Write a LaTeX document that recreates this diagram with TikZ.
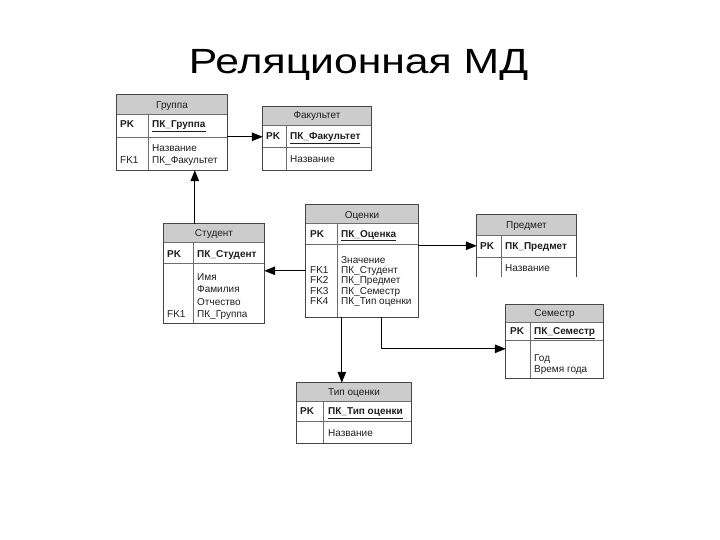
\documentclass[tikz,border=0pt]{standalone}
\usepackage{fontspec}
\setmainfont{Liberation Sans}
\usetikzlibrary{arrows.meta,fit}
\definecolor{bordc}{RGB}{70,70,70}
\definecolor{sepc}{RGB}{110,110,110}
\definecolor{hdrc}{RGB}{204,204,204}
\definecolor{txtc}{RGB}{30,30,30}
% name, left, top, right, bottom, header bottom, pk bottom, divider x
\newcommand\ertbl[8]{%
  \path (#2,#3) coordinate (#1-nw) (#4,#5) coordinate (#1-se);
  \node[inner sep=0pt, fit=(#1-nw)(#1-se)] (#1) {};
  \fill[hdrc] (#1.north west) rectangle (#4,#6);
  \draw[sepline] (#2,#6) -- (#4,#6) (#2,#7) -- (#4,#7) (#8,#6) -- (#8,#5);
}
\begin{document}
\begin{tikzpicture}[x=1pt,y=-1pt,
  sepline/.style={draw=sepc, line width=0.9pt},
  bord/.style={draw=bordc, line width=1pt},
  txt/.style={font=\fontsize{10}{11}\selectfont, text=txtc, anchor=base west, inner sep=0pt},
  htxt/.style={font=\fontsize{10}{11}\selectfont, text=txtc, anchor=base, inner sep=0pt},
  conn/.style={line width=1.3pt, -{Triangle[length=11pt,width=8.5pt]}}
]
\useasboundingbox (0,0) rectangle (720,540);

% title
\node[font=\fontsize{35}{40}\selectfont, anchor=base, inner sep=0pt, xscale=1.22, transform shape] (title) at (358.5,74) {Реляционная МД};

% tables
\ertbl{gr}{117}{95}{227}{170}{114}{137}{148}
\ertbl{fa}{263}{107}{371}{170}{125}{147}{286}
\ertbl{st}{164}{224}{264}{323}{242}{263}{193}
\ertbl{oc}{306}{205}{418}{317}{223}{244}{337}
\ertbl{pr}{477}{215}{576}{277}{235}{257}{501}
\ertbl{se}{506}{305}{603}{378}{322}{340}{530}
\ertbl{to}{297}{383}{411}{443}{401}{421}{323}

\draw[bord] (gr.north west) rectangle (gr.south east);
\draw[bord] (fa.north west) rectangle (fa.south east);
\draw[bord] (st.north west) rectangle (st.south east);
\draw[bord] (oc.north west) rectangle (oc.south east);
\draw[bord] (pr.south west) |- (pr.north east) -- (pr.south east);
\draw[bord] (se.north west) rectangle (se.south east);
\draw[bord] (to.north west) rectangle (to.south east);

% Группа
\node[htxt] (gr-h) at (172,108.5) {Группа};
\node[txt] (gr-pk) at (120,127.5) {\bfseries PK};
\node[txt] (gr-pkf) at (152,127.5) {\bfseries\underline{ПК\_Группа}};
\node[txt] (gr-f1) at (152,151.5) {Название};
\node[txt] (gr-f2) at (152,163.5) {ПК\_Факультет};
\node[txt] (gr-fk) at (120,163.5) {FK1};

% Факультет
\node[htxt] (fa-h) at (317,118.5) {Факультет};
\node[txt] (fa-pk) at (266,139.5) {\bfseries PK};
\node[txt] (fa-pkf) at (290,139.5) {\bfseries\underline{ПК\_Факультет}};
\node[txt] (fa-f1) at (290,163) {Название};

% Студент
\node[htxt] (st-h) at (214,236.5) {Студент};
\node[txt] (st-pk) at (167,257.5) {\bfseries PK};
\node[txt] (st-pkf) at (197,257.5) {\bfseries ПК\_Студент};
\node[txt] (st-f1) at (197,280.5) {Имя};
\node[txt] (st-f2) at (197,292.8) {Фамилия};
\node[txt] (st-f3) at (197,305.1) {Отчество};
\node[txt] (st-f4) at (197,317.4) {ПК\_Группа};
\node[txt] (st-fk) at (167,317.4) {FK1};

% Оценки
\node[htxt] (oc-h) at (362,218.5) {Оценки};
\node[txt] (oc-pk) at (310,237) {\bfseries PK};
\node[txt] (oc-pkf) at (341,237) {\bfseries\underline{ПК\_Оценка}};
\node[txt] (oc-f0) at (341,263.5) {Значение};
\node[txt] (oc-f1) at (341,273.7) {ПК\_Студент};
\node[txt] (oc-f2) at (341,283.9) {ПК\_Предмет};
\node[txt] (oc-f3) at (341,294.1) {ПК\_Семестр};
\node[txt] (oc-f4) at (341,304.3) {ПК\_Тип оценки};
\node[txt] (oc-k1) at (310,273.7) {FK1};
\node[txt] (oc-k2) at (310,283.9) {FK2};
\node[txt] (oc-k3) at (310,294.1) {FK3};
\node[txt] (oc-k4) at (310,304.3) {FK4};

% Предмет
\node[htxt] (pr-h) at (526.5,228.5) {Предмет};
\node[txt] (pr-pk) at (480,249.5) {\bfseries PK};
\node[txt] (pr-pkf) at (505,249.5) {\bfseries ПК\_Предмет};
\node[txt] (pr-f1) at (505,271.5) {Название};

% Семестр
\node[htxt] (se-h) at (554.5,316.5) {Семестр};
\node[txt] (se-pk) at (510,334.5) {\bfseries PK};
\node[txt] (se-pkf) at (534,334.5) {\bfseries\underline{ПК\_Семестр}};
\node[txt] (se-f1) at (534,361) {Год};
\node[txt] (se-f2) at (534,372) {Время года};

% Тип оценки
\node[htxt] (to-h) at (354,395) {Тип оценки};
\node[txt] (to-pk) at (300,414.5) {\bfseries PK};
\node[txt] (to-pkf) at (328,414.5) {\bfseries\underline{ПК\_Тип оценки}};
\node[txt] (to-f1) at (328,436) {Название};

% connectors
\draw[conn] ([yshift=-42pt]gr.north east) -- ([yshift=-42pt]gr.north east -| fa.west);
\draw[conn] ([xshift=31pt]st.north west) -- ([xshift=31pt]st.north west |- gr.south);
\draw[conn] ([yshift=-66pt]oc.north west) -- ([yshift=-66pt]oc.north west -| st.east);
\draw[conn] ([yshift=-41pt]oc.north east) -- ([yshift=-41pt]oc.north east -| pr.west);
\draw[conn] ([xshift=36pt]oc.south west) -- ([xshift=36pt]oc.south west |- to.north);
\draw[conn] ([xshift=76pt]oc.south west) |- ([yshift=-44pt]se.north west);
\end{tikzpicture}
\end{document}
